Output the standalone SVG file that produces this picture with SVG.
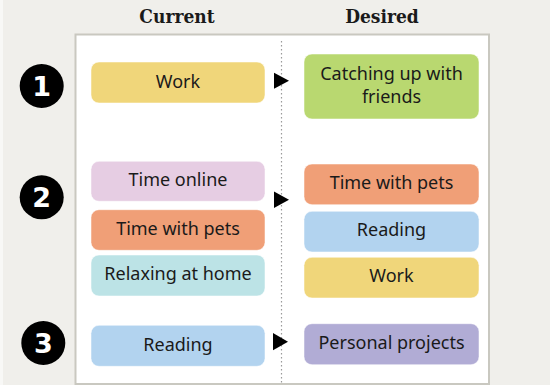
<svg xmlns="http://www.w3.org/2000/svg" width="550" height="385" viewBox="0 0 550 385">
<defs>
<style>
.bg{fill:#f0efeb}
.panel{fill:#ffffff;stroke:#c9c8c0;stroke-width:2}
.box{stroke:#ffffff;stroke-opacity:0.5;stroke-width:1}
.t{font-family:"Noto Sans","DejaVu Sans",sans-serif;font-size:18px;fill:#1a1a1a;text-anchor:middle}
.h{font-family:"DejaVu Serif Condensed","DejaVu Serif",serif;font-stretch:condensed;font-weight:bold;font-size:19px;fill:#1a1a1a;text-anchor:middle}
.num{font-family:"DejaVu Sans",sans-serif;font-weight:bold;font-size:27px;fill:#ffffff;text-anchor:middle}
.arr{fill:#000000}
.y{fill:#f0d67a}.g{fill:#b9d870}.p{fill:#e6cde3}.o{fill:#f09f77}.c{fill:#bce3e6}.b{fill:#b2d3ef}.l{fill:#b1acd5}
</style>
</defs>
<rect class="bg" x="0" y="0" width="550" height="385"/>
<rect x="0" y="0" width="3" height="385" fill="#f8f8f6"/>
<rect class="panel" x="75.5" y="34.5" width="413.5" height="349.5"/>
<text class="h" x="177" y="23">Current</text>
<text class="h" x="382" y="23">Desired</text>
<g id="connectors">
<line x1="281.5" y1="41" x2="281.5" y2="384" stroke="#9a9a9a" stroke-width="1.2" stroke-dasharray="1.5,2.5"/>
<polygon class="arr" points="274,72.7 289,80.7 274,88.7"/>
<polygon class="arr" points="274,191.5 289,199.7 274,208"/>
<polygon class="arr" points="273,333 288,341.7 273,350.3"/>
</g>
<g id="n1"><circle cx="41.7" cy="86" r="22" fill="#000"/><text class="num" x="41.7" y="95.5">1</text></g>
<g id="n2"><circle cx="41.7" cy="197.3" r="22" fill="#000"/><text class="num" x="41.7" y="206.8">2</text></g>
<g id="n3"><circle cx="43.3" cy="343" r="22" fill="#000"/><text class="num" x="43.3" y="352.5">3</text></g>
<g id="c-work"><rect class="box y" x="91" y="62" width="174" height="41" rx="8"/><text class="t" x="178" y="87.5">Work</text></g>
<g id="d-friends"><rect class="box g" x="304" y="54" width="175" height="65" rx="8"/><text class="t" x="391.5" y="80">Catching up with</text><text class="t" x="391.5" y="103.3">friends</text></g>
<g id="c-online"><rect class="box p" x="91" y="161.3" width="174" height="40" rx="8"/><text class="t" x="178" y="186.3">Time online</text></g>
<g id="c-pets"><rect class="box o" x="91" y="209.7" width="174" height="40.6" rx="8"/><text class="t" x="178" y="234.5">Time with pets</text></g>
<g id="c-relax"><rect class="box c" x="91" y="255" width="174" height="41" rx="8"/><text class="t" x="178" y="280">Relaxing at home</text></g>
<g id="d-pets"><rect class="box o" x="304" y="164" width="175" height="40.7" rx="8"/><text class="t" x="391.5" y="189">Time with pets</text></g>
<g id="d-reading"><rect class="box b" x="304" y="211.3" width="175" height="40.7" rx="8"/><text class="t" x="391.5" y="236.3">Reading</text></g>
<g id="d-work"><rect class="box y" x="304" y="257.3" width="175" height="40.7" rx="8"/><text class="t" x="391.5" y="282.3">Work</text></g>
<g id="c-reading"><rect class="box b" x="91" y="325.3" width="174" height="41" rx="8"/><text class="t" x="178" y="350.5">Reading</text></g>
<g id="d-projects"><rect class="box l" x="304" y="323.7" width="175" height="41" rx="8"/><text class="t" x="391.5" y="349">Personal projects</text></g>
</svg>
